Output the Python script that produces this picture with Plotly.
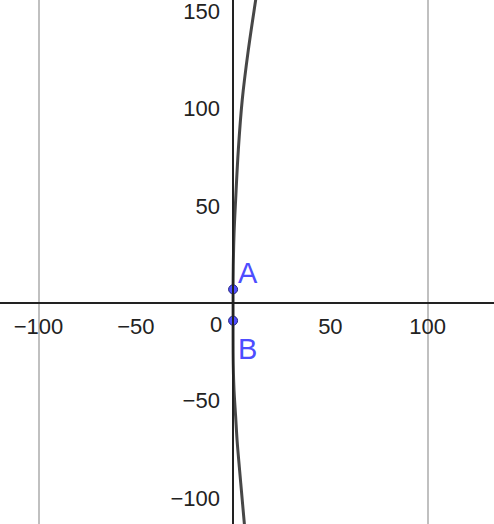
import plotly.graph_objects as go

# Curve (x, y in axis units)
curve_x = [12.2, 11.6, 7.8, 4.7, 2.7, 1.3, 0.5, 0.1, 0.0, 0.0, 0.0, 0.1, 0.5, 1.3, 2.1, 3.2, 4.7, 5.8, 6.2]
curve_y = [160.0, 155.9, 130.0, 104.5, 79.0, 53.0, 36.0, 19.0, 7.0, -9.0, -20.0, -32.0, -45.0, -58.0, -71.0, -84.0, -101.0, -113.4, -118.0]

# Points
point_names = ["A", "B"]
point_x = [0.0, 0.0]
point_y = [7.2, -8.9]

# Axes
x_range = [-119.8, 134.1]
y_range = [-113.4, 155.9]
x_ticks = [-100, -50, 50, 100]
x_tick_text = ["\u2212100", "\u221250", "50", "100"]
y_ticks = [-100, -50, 50, 100, 150]
y_tick_text = ["\u2212100", "\u221250", "50", "100", "150"]
x_grid = [-100, 100]

FONT = "Liberation Sans, Arial, sans-serif"
AXIS_COL = "#222222"
PT_COL = "#4d4dff"

fig = go.Figure()
fig.add_trace(go.Scatter(
    x=curve_x, y=curve_y, mode="lines",
    line=dict(color="#474747", width=3, shape="spline"),
    hoverinfo="skip", showlegend=False,
))
fig.add_trace(go.Scatter(
    x=point_x, y=point_y, mode="markers",
    marker=dict(size=9, color=PT_COL, line=dict(color="#262680", width=1)),
    showlegend=False,
))

annotations = []
for name, px, py in zip(point_names, point_x, point_y):
    above = py > 0
    annotations.append(dict(
        x=px, y=py, xref="x", yref="y", text=name, showarrow=False,
        xanchor="left", yanchor="bottom" if above else "top",
        xshift=3, yshift=-2 if above else -10,
        font=dict(family=FONT, size=29, color=PT_COL),
    ))
annotations.append(dict(
    x=0, y=0, xref="x", yref="y", text="0", showarrow=False,
    xanchor="right", yanchor="top", xshift=-9, yshift=-7,
    font=dict(family=FONT, size=22, color=AXIS_COL),
))

xpos = (0 - y_range[0]) / (y_range[1] - y_range[0])
ypos = (0 - x_range[0]) / (x_range[1] - x_range[0])

fig.update_layout(
    width=494, height=524,
    margin=dict(l=0, r=0, t=0, b=0, autoexpand=False),
    paper_bgcolor="white", plot_bgcolor="white",
    showlegend=False,
    annotations=annotations,
    xaxis=dict(
        range=x_range, anchor="free", position=xpos, automargin=False,
        showline=True, linecolor=AXIS_COL, linewidth=1.5,
        zeroline=False, showgrid=False, ticks="",
        tickmode="array", tickvals=x_ticks, ticktext=x_tick_text,
        tickfont=dict(family=FONT, size=22, color=AXIS_COL),
        ticklabelstandoff=4, ticklabeloverflow="allow",
        minor=dict(tickmode="array", tickvals=x_grid, showgrid=True,
                   gridcolor="#c0c0c0", gridwidth=1.5, ticks=""),
        fixedrange=True,
    ),
    yaxis=dict(
        range=y_range, anchor="free", position=ypos, automargin=False,
        showline=True, linecolor=AXIS_COL, linewidth=1.5,
        zeroline=False, showgrid=False, ticks="",
        tickmode="array", tickvals=y_ticks, ticktext=y_tick_text,
        tickfont=dict(family=FONT, size=22, color=AXIS_COL),
        ticklabelstandoff=8, ticklabeloverflow="allow",
        fixedrange=True,
    ),
)

fig.write_html("out.html", config={"displayModeBar": False},
               post_script="document.body.style.margin='0';")
